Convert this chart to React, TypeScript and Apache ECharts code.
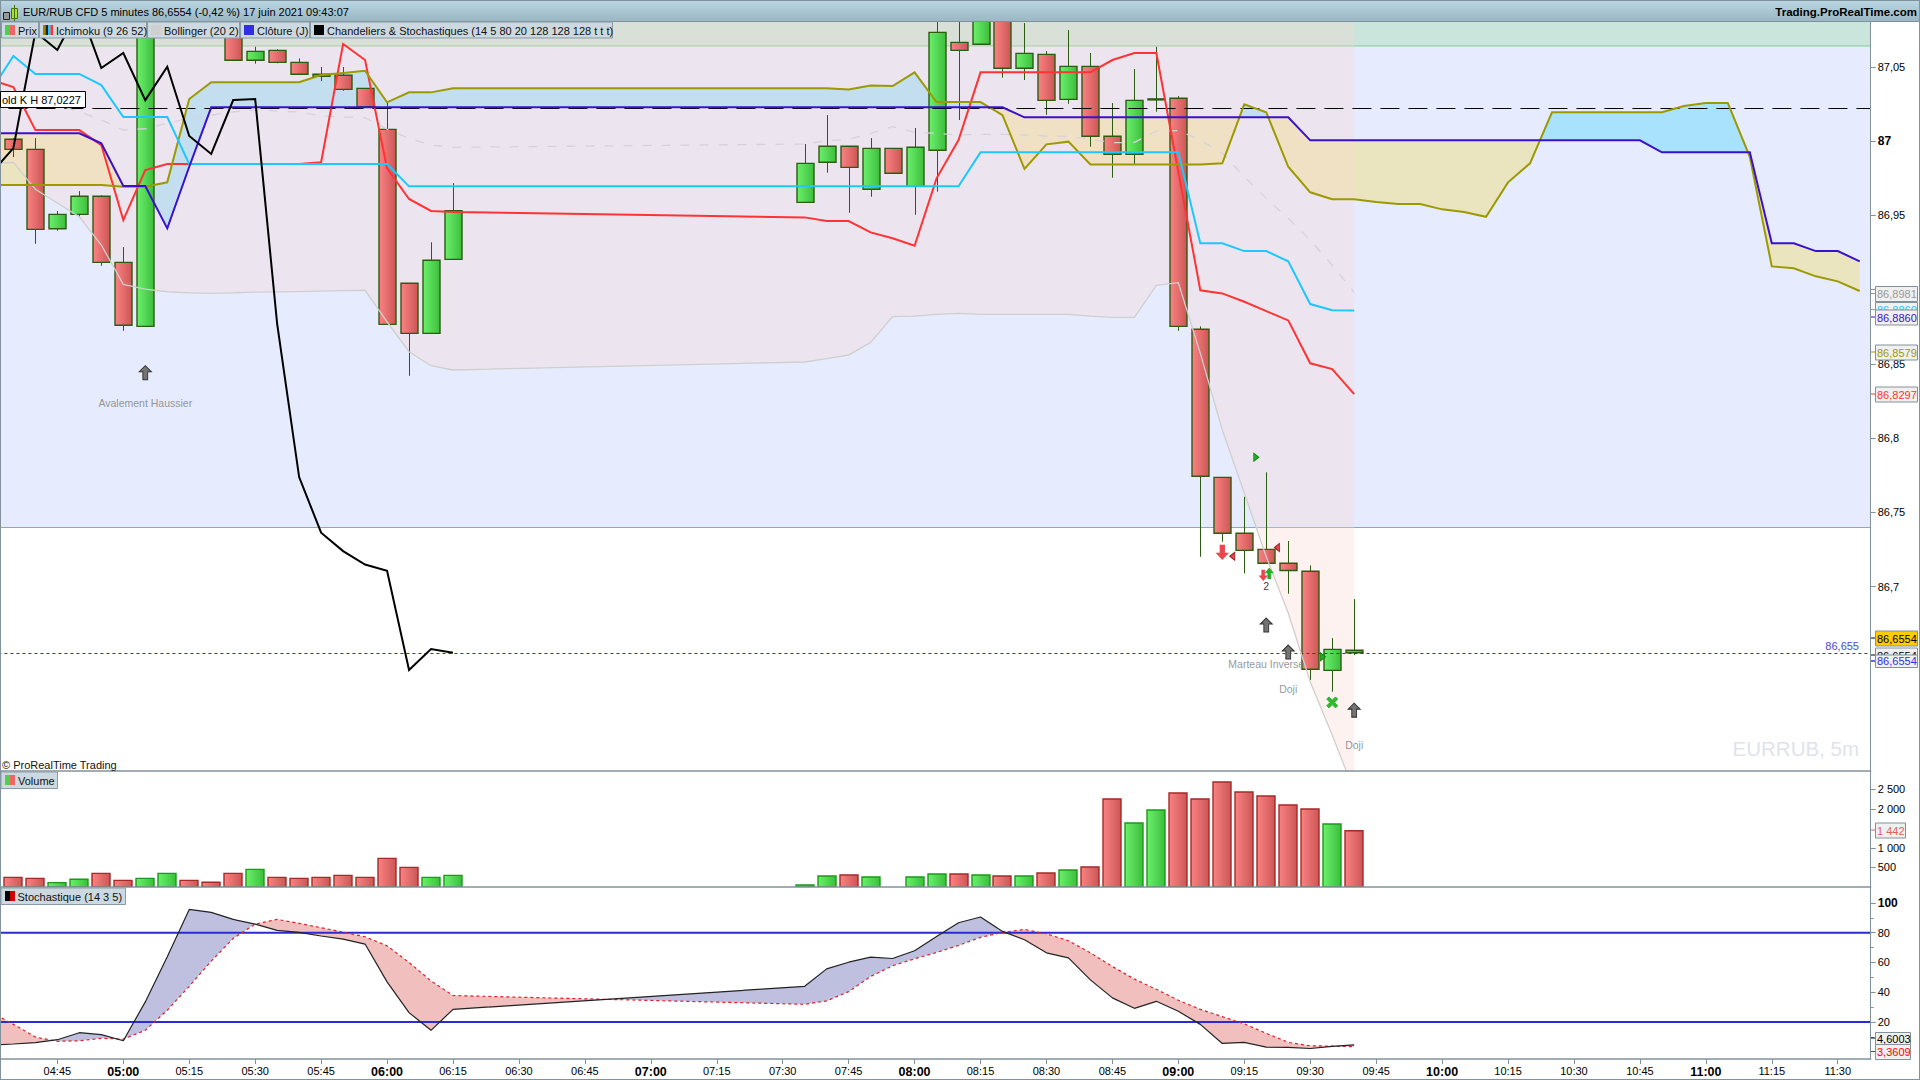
import React, { useEffect, useRef } from "react";
import * as echarts from "echarts";

const FONT = "'Liberation Sans', Arial, sans-serif";
const gap: null[] = Array(15).fill(null);
const SHIFT = 20; // the chart div starts 20px left of the page so that the 04:30 slot runs off the edge

// 5-minute slots, 04:30 -> 11:35
const categories: string[] = [];
for (let m = 4 * 60 + 30; m <= 11 * 60 + 35; m += 5) {
  categories.push(String(Math.floor(m / 60)).padStart(2, "0") + ":" + String(m % 60).padStart(2, "0"));
}

// time, open, high, low, close
const candles: [string, number, number, number, number][] = [
  ["04:35", 87.0013, 87.0021, 86.9893, 86.9945],
  ["04:40", 86.9945, 87.0021, 86.9309, 86.9406],
  ["04:45", 86.941, 86.953, 86.9397, 86.9507],
  ["04:50", 86.9507, 86.9664, 86.9485, 86.9629],
  ["04:55", 86.9629, 86.9635, 86.9161, 86.9184],
  ["05:00", 86.9184, 86.9287, 86.8723, 86.876],
  ["05:05", 86.8753, 87.08, 86.8753, 87.0749],
  ["05:25", 87.0749, 87.09, 87.0545, 87.0545],
  ["05:30", 87.0545, 87.0636, 87.0522, 87.0605],
  ["05:35", 87.0612, 87.0619, 87.0525, 87.0531],
  ["05:40", 87.0531, 87.0558, 87.0451, 87.0451],
  ["05:45", 87.0451, 87.05, 87.0405, 87.0437],
  ["05:50", 87.0444, 87.05, 87.034, 87.0349],
  ["05:55", 87.0356, 87.0356, 87.0232, 87.0232],
  ["06:00", 87.008, 87.0266, 86.8766, 86.8766],
  ["06:05", 86.9043, 86.9043, 86.842, 86.8706],
  ["06:10", 86.8706, 86.9319, 86.8706, 86.9198],
  ["06:15", 86.9204, 86.9718, 86.9204, 86.9532],
  ["07:35", 86.9588, 86.9981, 86.9588, 86.9851],
  ["07:40", 86.9858, 87.0176, 86.9788, 86.9966],
  ["07:45", 86.9966, 86.9966, 86.9518, 86.9824],
  ["07:50", 86.9676, 87.0021, 86.9626, 86.9952],
  ["07:55", 86.9952, 86.9952, 86.9784, 86.9784],
  ["08:00", 86.9696, 87.0089, 86.9505, 86.9959],
  ["08:05", 86.9939, 87.0803, 86.966, 87.0733],
  ["08:10", 87.0666, 87.0803, 87.0143, 87.0612],
  ["08:15", 87.0653, 87.09, 87.0653, 87.085],
  ["08:20", 87.085, 87.09, 87.0428, 87.0491],
  ["08:25", 87.0491, 87.0796, 87.0412, 87.0592],
  ["08:30", 87.0585, 87.0607, 87.0178, 87.0275],
  ["08:35", 87.0282, 87.0749, 87.0252, 87.0504],
  ["08:40", 87.0504, 87.0594, 86.9963, 87.0033],
  ["08:45", 87.0033, 87.0257, 86.9754, 86.9912],
  ["08:50", 86.9912, 87.0486, 86.9844, 87.0275],
  ["08:55", 87.0282, 87.0636, 87.0199, 87.0285],
  ["09:00", 87.0289, 87.0304, 86.8723, 86.8753],
  ["09:05", 86.8733, 86.8753, 86.7201, 86.7743],
  ["09:10", 86.7736, 86.7736, 86.7302, 86.7359],
  ["09:15", 86.7359, 86.7605, 86.7089, 86.7244],
  ["09:20", 86.7251, 86.777, 86.7157, 86.7157],
  ["09:25", 86.7157, 86.7307, 86.6952, 86.7109],
  ["09:30", 86.7103, 86.7143, 86.6371, 86.6443],
  ["09:35", 86.6436, 86.6653, 86.6292, 86.6577],
  ["09:40", 86.6571, 86.6916, 86.6539, 86.6554],
];

const blackLine = [86.9786, 86.9954, 87.0735, 87.0614, 87.0897, 87.0493, 87.0594, 87.0277, 87.0502, 87.0035, 86.9914, 87.0277, 87.0284, 86.8769, 86.7738, 86.7363, 86.7239, 86.7149, 86.7107, 86.6438, 86.6579, 86.6555];

const redLine: (number | null)[] = [87.0412, 87.0365, 87.0075, 87.0075, 87.0075, 86.9974, 86.9469, 86.9806, 86.9846, 86.9846, 86.9846, 86.9846, 86.9846, 86.9846, 86.9846, 86.9858, 87.0655, 87.0547, 86.9817, 86.9611, 86.953, 86.9523, ...gap,
  86.9487, 86.9462, 86.9462, 86.9386, 86.9346, 86.9296, 86.975, 87.0008, 87.0464, 87.0464, 87.0464, 87.0464, 87.0464, 87.0464, 87.0547, 87.0594, 87.0594, 86.9794, 86.8996, 86.8975, 86.8919, 86.8856, 86.8793, 86.8504, 86.8465, 86.8297];

const cyanLine: (number | null)[] = [87.0345, 87.0574, 87.0453, 87.0453, 87.0453, 87.0378, 87.0163, 87.0163, 87.0163, 86.9846, 86.9846, 86.9846, 86.9846, 86.9846, 86.9846, 86.9846, 86.9846, 86.9846, 86.9846, 86.9696, 86.9696, 86.9696, ...gap,
  86.9696, 86.9696, 86.9696, 86.9696, 86.9696, 86.9696, 86.9696, 86.9696, 86.9925, 86.9925, 86.9925, 86.9925, 86.9925, 86.9925, 86.9925, 86.9925, 86.9925, 86.9925, 86.9312, 86.9312, 86.926, 86.926, 86.9191, 86.8903, 86.8861, 86.886];

const blueLine: (number | null)[] = [87.0053, 87.0053, 87.0053, 87.0053, 87.0053, 86.9986, 86.9698, 86.9698, 86.9413, 86.9828, 87.0228, 87.0228, 87.0228, 87.0228, 87.0228, 87.0228, 87.0228, 87.0228, 87.0228, 87.0228, 87.0228, 87.0228, ...gap,
  87.0228, 87.0228, 87.0228, 87.0228, 87.0228, 87.0228, 87.0228, 87.0228, 87.0228, 87.0228, 87.0161, 87.0161, 87.0161, 87.0161, 87.0161, 87.0161, 87.0161, 87.0161, 87.0161, 87.0161, 87.0161, 87.0161, 87.0161, 87.0006, 87.0006, 87.0006,
  87.0006, 87.0006, 87.0006, 87.0006, 87.0006, 87.0006, 87.0006, 87.0006, 87.0006, 87.0006, 87.0006, 87.0006, 87.0006, 86.9925, 86.9925, 86.9925, 86.9925, 86.9925, 86.9312, 86.9312, 86.926, 86.926, 86.9191];

const oliveLine: (number | null)[] = [86.9705, 86.9705, 86.9705, 86.9705, 86.9705, 86.9705, 86.9693, 86.9693, 86.9723, 87.0284, 87.0397, 87.0397, 87.0397, 87.0397, 87.0397, 87.0446, 87.0459, 87.0475, 87.0262, 87.0329, 87.0329, 87.0356, ...gap,
  87.0356, 87.0356, 87.0349, 87.0376, 87.0372, 87.0464, 87.0264, 87.0264, 87.0264, 87.0176, 86.9813, 86.9979, 86.9997, 86.9844, 86.9844, 86.9844, 86.9844, 86.9844, 86.9844, 86.9851, 87.0248, 87.0195, 86.9828, 86.9656, 86.9609, 86.9609,
  86.959, 86.9577, 86.9577, 86.9541, 86.9523, 86.9491, 86.9723, 86.9851, 87.0195, 87.0195, 87.0195, 87.0195, 87.0195, 87.0195, 87.0237, 87.0257, 87.0257, 86.9895, 86.9157, 86.9144, 86.909, 86.9056, 86.8991];

const bollLower: (number | null)[] = [86.985, 86.9858, 86.9676, 86.9584, 86.9491, 86.9301, 86.9036, 86.9004, 86.8986, 86.8979, 86.8975, 86.8979, 86.8984, 86.8985, 86.8987, 86.899, 86.8993, 86.8996, 86.8784, 86.8582, 86.8488, 86.8459, ...gap,
  86.8513, 86.8536, 86.856, 86.8645, 86.8818, 86.8822, 86.8833, 86.8841, 86.8834, 86.8834, 86.8834, 86.8834, 86.8834, 86.8822, 86.8814, 86.8814, 86.9029, 86.9047, 86.8571, 86.8055, 86.763, 86.7201, 86.6822, 86.6359, 86.6, 86.5623];

const bollMid: (number | null)[] = [87.0325, 87.0311, 87.0277, 87.0244, 87.0199, 87.0143, 87.0075, 87.0084, 87.012, 87.0156, 87.0176, 87.0197, 87.021, 87.0203, 87.0197, 87.017, 87.0163, 87.0158, 87.0082, 87.0019, 86.9974, 86.9959, ...gap,
  86.9981, 87.0003, 87.0013, 87.0053, 87.0098, 87.006, 87.0053, 87.0042, 87.0046, 87.0046, 87.0042, 87.0035, 87.0033, 87.0013, 86.999, 86.9992, 87.0069, 87.0071, 87.0008, 86.9918, 86.9761, 86.9615, 86.9481, 86.9334, 86.9166, 86.8981];

// volume per slot; colour follows volumeUp
const volumeValues: (number | null)[] = [null, 248, 222, 111, 197, 350, 171, 222, 350, 171, 120, 350, 453, 248, 222, 248, 299, 248, 735, 504, 248, 299, ...gap,
  51, 282, 308, 256, null, 256, 333, 333, 308, 282, 282, 359, 436, 513, 2256, 1641, 1974, 2410, 2256, 2692, 2436, 2333, 2103, 2000, 1615, 1442];
const volumeUp: number[] = [0, 0, 0, 1, 1, 0, 0, 1, 1, 0, 0, 0, 1, 0, 0, 0, 0, 0, 0, 0, 1, 1, ...Array(15).fill(0),
  1, 1, 0, 1, 0, 1, 1, 0, 1, 0, 1, 0, 1, 0, 0, 1, 1, 0, 0, 0, 0, 0, 0, 0, 1, 0];

const stochK: (number | null)[] = [4.5, 5.2, 6.1, 8.1, 12.8, 11.5, 7.4, 33.5, 63.8, 95.7, 93.7, 89, 85.8, 81.6, 80.2, 77.8, 75.7, 72.4, 47, 26.3, 14.4, 28.5, ...gap,
  44, 55.7, 60.2, 63.6, 62.7, 67.9, 77.5, 86.7, 90.6, 80.9, 75.3, 66.5, 63.1, 48.3, 36.2, 29.2, 33.9, 27.2, 18.4, 5.6, 6.3, 3.1, 2.9, 2.2, 3.6, 4.6];
const stochD: (number | null)[] = [26.5, 18.4, 9.9, 7, 7.4, 9, 8.5, 14.4, 27.9, 44, 60.9, 76.2, 85.8, 89, 86.3, 83.4, 80.4, 77.3, 71.2, 60, 47.6, 37.8, ...gap,
  31.9, 34.2, 40.4, 50.6, 57.8, 62.5, 66.7, 71.5, 76.9, 80.2, 82.2, 79.3, 74.6, 66.5, 57.3, 48.8, 42, 34.6, 28.5, 23.6, 18.7, 12.4, 6.3, 4, 3.8, 3.36];

const priceTicks = [87.05, 87, 86.95, 86.9, 86.85, 86.8, 86.75, 86.7, 86.65];
const volumeTicks = [500, 1000, 2000, 2500];
const stochTicks = [20, 40, 60, 80, 100];
const stochMinorTicks = [10, 30, 50, 70, 90];
const stochBounds = [20, 80];

const PMIN = 86.5758, PMAX = 87.0803;
const zones = [
  { top: PMAX, bottom: 87.0639, fill: "#c9e5dc", line: "#38b038" },
  { top: 87.0639, bottom: 86.7398, fill: "#e6ecfd", line: "#7ea6ee" },
];
const levels = [
  { price: 87.0227, color: "#000", dash: [19, 9], width: 1.2 },
  { price: 86.6554, color: "#3030c8", dash: [3, 3], width: 1 },
];

const arrowUp = "path://M5,0 L10,6 L7,6 L7,14 L3,14 L3,6 L0,6 Z";
const arrowDown = "path://M3,0 L7,0 L7,8 L10,8 L5,14 L0,8 L3,8 Z";
const triLeft = "path://M6,0 L6,10 L0,5 Z";
const triRight = "path://M0,0 L6,5 L0,10 Z";
const cross = "path://M2,0 L5,3 L8,0 L10,2 L7,5 L10,8 L8,10 L5,7 L2,10 L0,8 L3,5 L0,2 Z";

const markers: [string, number, string, number, number, number, string, string][] = [
  ["05:05", 86.8441, arrowUp, 12, 14, 0, "#747474", "#333"],
  ["09:20", 86.6741, arrowUp, 12, 14, 0, "#747474", "#333"],
  ["09:25", 86.6559, arrowUp, 12, 14, 0, "#747474", "#333"],
  ["09:40", 86.6168, arrowUp, 12, 14, 0, "#747474", "#333"],
  ["09:10", 86.7231, arrowDown, 11, 14, 0, "#ee4450", "#ee4450"],
  ["09:10", 86.7204, triLeft, 5, 8, 10, "#ee4450", "#a02020"],
  ["09:20", 86.7264, triLeft, 5, 8, 10.7, "#ee4450", "#a02020"],
  ["09:20", 86.7076, arrowDown, 7, 10, -3, "#ee4450", "#ee4450"],
  ["09:20", 86.7089, arrowUp, 7, 10, 3, "#22b022", "#22b022"],
  ["09:20", 86.7871, triRight, 5, 8, -10, "#22b022", "#118811"],
  ["09:35", 86.6527, triRight, 5, 8, -9.3, "#22b022", "#118811"],
  ["09:35", 86.622, cross, 11, 11, 0, "#30b830", "#30b830"],
];
const markerTexts: [string, number, string, string][] = [
  ["05:05", 86.8238, "Avalement Haussier", "#7c7c7c"],
  ["09:20", 86.6478, "Marteau Inversé", "#7c7c7c"],
  ["09:25", 86.6312, "Doji", "#7c7c7c"],
  ["09:40", 86.5935, "Doji", "#7c7c7c"],
  ["09:20", 86.7006, "2", "#000"],
];

const legendTags: [number, number, string, string[]][] = [
  [1, 38, "Prix", ["#4fcf4f", "#ee6666"]],
  [39, 146, "Ichimoku (9 26 52)", ["#a08000", "#222222", "#1ec8ff", "#ff3333"]],
  [147, 239, "Bollinger (20 2)", ["#cfcfcf"]],
  [240, 309, "Clôture (J)", ["#3030e0"]],
  [310, 612, "Chandeliers & Stochastiques (14 5 80 20 128 128 128 t t t)", ["#000000"]],
];
// y, height, width, text, text colour, background
const priceTags: [number, number, number, string, string, string][] = [
  [286, 15, 42, "86,8981", "#999999", "#f0f0f0"],
  [302, 15, 42, "86,8860", "#1ec8ff", "#f0f0f0"],
  [309.5, 15, 42, "86,8860", "#3a10d0", "#f0f0f0"],
  [344.5, 15, 42, "86,8579", "#9c9a00", "#f0f0f0"],
  [386.5, 15, 42, "86,8297", "#ff3333", "#f0f0f0"],
  [630.5, 15, 42, "86,6554", "#000000", "#ffcc00"],
  [647.5, 15, 42, "86,6554", "#000000", "#f0f0f0"],
  [654.5, 12.5, 42, "86,6554", "#3030e0", "#f0f0f0"],
  [822.5, 15, 30, "1 442", "#e06060", "#f0f0f0"],
  [1032, 12, 35, "4,6003", "#000000", "#f0f0f0"],
  [1044, 15, 35, "3,3609", "#ff0000", "#f0f0f0"],
];

function crossBands(api: any, a: (number | null)[], b: (number | null)[], colAbove: string, colBelow: string) {
  const pts: { x: number; ya: number; yb: number }[] = [];
  a.forEach((v, j) => {
    const w = b[j];
    if (v == null || w == null) return;
    const pa = api.coord([j, v]);
    const pb = api.coord([j, w]);
    pts.push({ x: pa[0], ya: pa[1], yb: pb[1] });
  });
  const children: any[] = [];
  let top: number[][] = [];
  let bot: number[][] = [];
  let sign = 0;
  const flush = () => {
    if (top.length > 1) {
      children.push({
        type: "polygon",
        shape: { points: top.concat(bot.slice().reverse()) },
        style: { fill: sign > 0 ? colAbove : colBelow },
      });
    }
    top = [];
    bot = [];
  };
  pts.forEach((p, k) => {
    const d = p.yb - p.ya;
    const s = d > 0 ? 1 : d < 0 ? -1 : sign;
    if (sign !== 0 && s !== sign && k > 0) {
      const q = pts[k - 1];
      const dq = q.yb - q.ya;
      const t = dq / (dq - d);
      const cx = q.x + (p.x - q.x) * t;
      const cy = q.ya + (p.ya - q.ya) * t;
      top.push([cx, cy]);
      bot.push([cx, cy]);
      flush();
      top.push([cx, cy]);
      bot.push([cx, cy]);
    }
    sign = s;
    top.push([p.x, p.ya]);
    bot.push([p.x, p.yb]);
  });
  flush();
  return { type: "group", children };
}

const hGrad = (c0: string, c1: string) => new echarts.graphic.LinearGradient(0, 0, 1, 0, [
  { offset: 0, color: c0 },
  { offset: 1, color: c1 },
]);
const redGrad = () => hGrad("#fb8282", "#cc5656");
const greenGrad = () => hGrad("#6cf06c", "#3cbe3c");

function buildOption(): any {
  const G = { left: 0.43, width: 1890.28 };
  const lineS = (name: string, data: any[], color: string, width: number, extra: any = {}) => ({
    name, type: "line", z: 3, data, showSymbol: false, connectNulls: true, silent: true, xAxisIndex: 0, yAxisIndex: 0,
    lineStyle: { color, width, join: "miter" }, ...extra,
  });

  const tagEls: any[] = [];
  priceTags.forEach(([y, h, w, t, col, bg], k) => {
    const z = 110 + k * 2;
    tagEls.push({ type: "rect", z, shape: { x: 1875.5, y: y + 0.5, width: w, height: h }, style: { fill: bg, stroke: "#7f929c", lineWidth: 1 } });
    tagEls.push({ type: "line", z, shape: { x1: 1871, y1: y + h / 2, x2: 1875, y2: y + h / 2 }, style: { stroke: col, lineWidth: 1 } });
    tagEls.push({ type: "text", z: z + 1, x: 1877, y: y + h / 2 + 0.5, style: { text: t, fill: col, font: `11px ${FONT}`, verticalAlign: "middle" } });
  });
  const legendEls: any[] = [];
  legendTags.forEach(([x0, x1, t, cols]) => {
    legendEls.push({ type: "rect", z: 100, shape: { x: x0 + 0.5, y: 22, width: x1 - x0, height: 16 }, style: { fill: "#ccd9e0", stroke: "#8a9ba5", lineWidth: 1 } });
    const w = 10 / cols.length;
    cols.forEach((c, k) => legendEls.push({ type: "rect", z: 101, shape: { x: x0 + 4 + k * w, y: 25, width: w, height: 10 }, style: { fill: c } }));
    legendEls.push({ type: "text", z: 101, x: x0 + 17, y: 30.5, style: { text: t, fill: "#111", font: `11px ${FONT}`, verticalAlign: "middle" } });
  });

  return {
    animation: false,
    backgroundColor: "#ffffff",
    textStyle: { fontFamily: FONT },
    grid: [
      { ...G, top: 22, height: 749 },
      { ...G, top: 771, height: 116 },
      { ...G, top: 887, height: 172 },
    ],
    xAxis: [0, 1, 2].map((k) => ({
      type: "category",
      gridIndex: k,
      data: categories,
      boundaryGap: true,
      z: 6,
      axisLine: { show: true, onZero: false, lineStyle: { color: "#82929c", width: 1.5 } },
      axisTick: k === 2
        ? { show: true, alignWithLabel: true, length: 5, lineStyle: { color: "#82929c" }, interval: (_: number, v: string) => /:(00|15|30|45)$/.test(v) && v !== "04:30" }
        : { show: false },
      axisLabel: k === 2
        ? {
            show: true, margin: 6, color: "#000", fontSize: 11, fontFamily: FONT,
            interval: (_: number, v: string) => /:(00|15|30|45)$/.test(v) && v !== "04:30",
            formatter: (v: string) => (v.endsWith(":00") ? `{b|${v}}` : v),
            rich: { b: { fontWeight: "bold", fontSize: 12.5, fontFamily: FONT, color: "#000" } },
          }
        : { show: false },
      splitLine: { show: false },
    })),
    yAxis: [
      {
        type: "value", gridIndex: 0, position: "right", min: PMIN, max: PMAX, scale: true, z: 6,
        axisLine: { show: true, lineStyle: { color: "#82929c", width: 1 } },
        axisTick: { show: true, length: 5, lineStyle: { color: "#82929c" }, customValues: priceTicks },
        axisLabel: {
          show: true, margin: 7, color: "#000", fontSize: 11, fontFamily: FONT, customValues: priceTicks,
          formatter: (v: number) => (v === 87 ? "{b|87}" : String(v).replace(".", ",")),
          rich: { b: { fontWeight: "bold", fontSize: 12, fontFamily: FONT, color: "#000" } },
        },
        splitLine: { show: false },
      },
      {
        type: "value", gridIndex: 1, position: "right", min: 0, max: 2974, z: 6,
        axisLine: { show: true, lineStyle: { color: "#82929c", width: 1 } },
        axisTick: { show: true, length: 5, lineStyle: { color: "#82929c" }, customValues: volumeTicks },
        axisLabel: {
          show: true, margin: 7, color: "#000", fontSize: 11, fontFamily: FONT, customValues: volumeTicks,
          formatter: (v: number) => (v >= 1000 ? `${Math.floor(v / 1000)} ${String(v % 1000).padStart(3, "0")}` : String(v)),
        },
        splitLine: { show: false },
      },
      {
        type: "value", gridIndex: 2, position: "right", min: -4.87, max: 110.75, z: 6,
        axisLine: { show: true, lineStyle: { color: "#82929c", width: 1 } },
        axisTick: { show: true, length: 5, lineStyle: { color: "#82929c" }, customValues: stochTicks },
        axisLabel: {
          show: true, margin: 7, color: "#000", fontSize: 11, fontFamily: FONT, customValues: stochTicks,
          formatter: (v: number) => (v === 100 ? "{b|100}" : String(v)),
          rich: { b: { fontWeight: "bold", fontSize: 12, fontFamily: FONT, color: "#000" } },
        },
        splitLine: { show: false },
      },
      {
        type: "value", gridIndex: 2, position: "right", min: -4.87, max: 110.75, z: 6,
        axisLine: { show: false },
        axisTick: { show: true, length: 3, lineStyle: { color: "#82929c" }, customValues: stochMinorTicks },
        axisLabel: { show: false },
        splitLine: { show: false },
      },
    ],
    series: [
      {
        name: "zones", type: "custom", z: 1, silent: true, clip: true, xAxisIndex: 0, yAxisIndex: 0,
        data: zones.map((z, k) => [k, z.bottom]), encode: { x: 0, y: 1 },
        renderItem: (params: any, api: any) => {
          const z = zones[params.dataIndex];
          const cs = params.coordSys;
          const y0 = api.coord([0, z.top])[1];
          const y1 = api.coord([0, z.bottom])[1];
          return {
            type: "group",
            children: [
              { type: "rect", shape: { x: cs.x, y: y0, width: cs.width, height: y1 - y0 }, style: { fill: z.fill } },
              { type: "line", shape: { x1: cs.x, y1: y1, x2: cs.x + cs.width, y2: y1 }, style: { stroke: z.line, lineWidth: 1.2 } },
            ],
          };
        },
      },
      {
        name: "nuage", type: "custom", z: 1, silent: true, clip: true, xAxisIndex: 0, yAxisIndex: 0,
        data: [[0, PMIN]], encode: { x: 0, y: 1 },
        renderItem: (_: any, api: any) => crossBands(api, oliveLine, blueLine, "#a9e2fd", "#ebe5bf"),
      },
      lineS("Bollinger aire", bollLower, "#cfcfcf", 0, { z: 1, lineStyle: { width: 0, opacity: 0 }, areaStyle: { origin: "end", color: "rgba(252,212,208,0.3)", opacity: 1 } }),
      {
        name: "Prix", type: "custom", z: 2, clip: true, silent: true, xAxisIndex: 0, yAxisIndex: 0,
        data: candles, encode: { x: 0, y: [1, 2, 3, 4] },
        renderItem: (_: any, api: any) => {
          const xc = api.coord([api.value(0), 87])[0];
          const o = api.coord([api.value(0), api.value(1)])[1];
          const h = api.coord([api.value(0), api.value(2)])[1];
          const l = api.coord([api.value(0), api.value(3)])[1];
          const c = api.coord([api.value(0), api.value(4)])[1];
          const up = api.value(4) >= api.value(1);
          const x = Math.round(xc);
          const top = Math.min(o, c);
          const bot = Math.max(o, c);
          return {
            type: "group",
            children: [
              { type: "line", shape: { x1: x + 0.5, y1: h, x2: x + 0.5, y2: l }, style: { stroke: "#2c5c12", lineWidth: 1 } },
              { type: "rect", shape: { x: x - 8, y: top, width: 17, height: Math.max(bot - top, 1) }, style: { fill: up ? greenGrad() : redGrad(), stroke: "#2c5c12", lineWidth: 1.4 } },
            ],
          };
        },
      },
      {
        name: "niveaux", type: "custom", z: 3, silent: true, clip: true, xAxisIndex: 0, yAxisIndex: 0,
        data: levels.map((z, k) => [k, z.price]), encode: { x: 0, y: 1 },
        renderItem: (params: any, api: any) => {
          const z = levels[params.dataIndex];
          const cs = params.coordSys;
          const y = Math.round(api.coord([0, z.price])[1]) + 0.5;
          return { type: "line", shape: { x1: cs.x, y1: y, x2: cs.x + cs.width, y2: y }, style: { stroke: z.color, lineWidth: z.width, lineDash: z.dash } };
        },
      },
      lineS("Bollinger bas", bollLower, "#cfcfcf", 1.3),
      lineS("Bollinger milieu", bollMid, "#d6d2da", 1.3, { lineStyle: { color: "#d6d2da", width: 1.3, type: [9, 10] } }),
      lineS("Rouge", redLine, "#ff3333", 2),
      lineS("Olive", oliveLine, "#9c9a00", 2),
      lineS("Cyan", cyanLine, "#1ec8ff", 2),
      lineS("Bleu", blueLine, "#3a10d0", 2),
      lineS("Noir", blackLine, "#000000", 2),
      {
        name: "motifs", type: "scatter", z: 4, silent: true, xAxisIndex: 0, yAxisIndex: 0,
        data: markers.map(([t, p, sym, w, h, dx, fill, stroke]) => ({
          value: [t, p], symbol: sym, symbolSize: [w, h], symbolOffset: [dx, 0],
          itemStyle: { color: fill, borderColor: stroke, borderWidth: 1, opacity: 1 },
        })),
      },
      {
        name: "textes", type: "scatter", z: 4, silent: true, xAxisIndex: 0, yAxisIndex: 0, symbolSize: 1,
        data: markerTexts.map(([t, p, s, c]) => ({
          value: [t, p], itemStyle: { color: "rgba(0,0,0,0)" },
          label: { show: true, position: "inside", formatter: s, color: c, fontSize: 10.5, fontFamily: FONT },
        })),
      },
      {
        name: "Volume", type: "custom", z: 2, silent: true, clip: true, xAxisIndex: 1, yAxisIndex: 1,
        data: volumeValues.map((v, j) => [j, v]).filter((r) => r[1] != null), encode: { x: 0, y: 1 },
        renderItem: (_: any, api: any) => {
          const j = api.value(0);
          const p = api.coord([j, api.value(1)]);
          const b = api.coord([j, 0]);
          const up = volumeUp[j] === 1;
          const x = Math.round(p[0]);
          return {
            type: "rect",
            shape: { x: x - 9, y: p[1], width: 18, height: b[1] - p[1] },
            style: { fill: up ? greenGrad() : redGrad(), stroke: up ? "#1a9a1a" : "#a52a2a", lineWidth: 1.4 },
          };
        },
      },
      {
        name: "aire stoch", type: "custom", z: 2, silent: true, clip: true, xAxisIndex: 2, yAxisIndex: 2,
        data: [[0, 50]], encode: { x: 0, y: 1 },
        renderItem: (_: any, api: any) => crossBands(api, stochK, stochD, "#bfc0e0", "#f2bfbf"),
      },
      {
        name: "bornes", type: "custom", z: 2, silent: true, xAxisIndex: 2, yAxisIndex: 2, clip: true,
        data: stochBounds.map((v, k) => [k, v]), encode: { x: 0, y: 1 },
        renderItem: (params: any, api: any) => {
          const cs = params.coordSys;
          const y = api.coord([0, api.value(1)])[1];
          return { type: "line", shape: { x1: cs.x, y1: y, x2: cs.x + cs.width, y2: y }, style: { stroke: "#2a2ad8", lineWidth: 2 } };
        },
      },
      { name: "%D", type: "line", z: 3, xAxisIndex: 2, yAxisIndex: 2, data: stochD, connectNulls: true, showSymbol: false, silent: true, lineStyle: { color: "#e0202a", width: 1.2, type: [3, 3] } },
      { name: "%K", type: "line", z: 3, xAxisIndex: 2, yAxisIndex: 2, data: stochK, connectNulls: true, showSymbol: false, silent: true, lineStyle: { color: "#222222", width: 1.2 } },
    ],
    graphic: {
      elements: [
        {
          type: "group", x: SHIFT, y: 0,
          children: [
            { type: "rect", z: 100, shape: { x: 0, y: 0, width: 1920, height: 21.5 }, style: { fill: new echarts.graphic.LinearGradient(0, 0, 0, 1, [{ offset: 0, color: "#bbd7e4" }, { offset: 1, color: "#9ab6c3" }]) } },
            { type: "line", z: 100, shape: { x1: 0, y1: 21.5, x2: 1920, y2: 21.5 }, style: { stroke: "#7f929c", lineWidth: 1 } },
            { type: "line", z: 100, shape: { x1: 0, y1: 0.5, x2: 1920, y2: 0.5 }, style: { stroke: "#7f929c", lineWidth: 1 } },
            { type: "line", z: 100, shape: { x1: 0.5, y1: 0, x2: 0.5, y2: 1080 }, style: { stroke: "#82929c", lineWidth: 1 } },
            { type: "line", z: 100, shape: { x1: 0, y1: 1079.5, x2: 1920, y2: 1079.5 }, style: { stroke: "#82929c", lineWidth: 1 } },
            { type: "line", z: 100, shape: { x1: 1919.5, y1: 0, x2: 1919.5, y2: 1080 }, style: { stroke: "#82929c", lineWidth: 1 } },
            { type: "rect", z: 101, shape: { x: 3.5, y: 12.5, width: 6, height: 7 }, style: { fill: "#999", stroke: "#222", lineWidth: 1 } },
            { type: "rect", z: 101, shape: { x: 11.5, y: 8.5, width: 6, height: 10 }, style: { fill: "#a6e22e", stroke: "#4a7010", lineWidth: 1 } },
            { type: "line", z: 101, shape: { x1: 14.5, y1: 5, x2: 14.5, y2: 21 }, style: { stroke: "#4a7010", lineWidth: 1 } },
            { type: "text", z: 101, x: 23, y: 11.5, style: { text: "EUR/RUB CFD 5 minutes 86,6554 (-0,42 %) 17 juin 2021 09:43:07", fill: "#000", font: `11px ${FONT}`, verticalAlign: "middle" } },
            { type: "text", z: 101, x: 1917, y: 11.5, style: { text: "Trading.ProRealTime.com", fill: "#000", font: `bold 11.5px ${FONT}`, textAlign: "right", verticalAlign: "middle" } },
            ...legendEls,
            { type: "rect", z: 100, shape: { x: 0.5, y: 91.5, width: 85, height: 16 }, style: { fill: "#fff", stroke: "#000", lineWidth: 1 } },
            { type: "text", z: 101, x: 2, y: 100, style: { text: "old K H 87,0227", fill: "#000", font: `11px ${FONT}`, verticalAlign: "middle" } },
            { type: "text", z: 101, x: 1859, y: 646, style: { text: "86,655", fill: "#4848e0", font: `11px ${FONT}`, textAlign: "right", verticalAlign: "middle" } },
            { type: "text", z: 50, x: 1859, y: 748, style: { text: "EURRUB, 5m", fill: "#e0e3ec", font: `20.5px ${FONT}`, textAlign: "right", verticalAlign: "middle" } },
            { type: "text", z: 101, x: 2, y: 765, style: { text: "© ProRealTime Trading", fill: "#111", font: `11px ${FONT}`, verticalAlign: "middle" } },
            { type: "rect", z: 100, shape: { x: 1, y: 772, width: 56.5, height: 16.5 }, style: { fill: "#ccd9e0", stroke: "#8a9ba5", lineWidth: 1 } },
            { type: "rect", z: 101, shape: { x: 5, y: 775, width: 5, height: 10 }, style: { fill: "#4fcf4f" } },
            { type: "rect", z: 101, shape: { x: 10, y: 775, width: 5, height: 10 }, style: { fill: "#ee6666" } },
            { type: "text", z: 101, x: 18, y: 780.5, style: { text: "Volume", fill: "#111", font: `11px ${FONT}`, verticalAlign: "middle" } },
            { type: "rect", z: 100, shape: { x: 1, y: 888, width: 124.5, height: 16.5 }, style: { fill: "#ccd9e0", stroke: "#8a9ba5", lineWidth: 1 } },
            { type: "rect", z: 101, shape: { x: 5, y: 891, width: 5, height: 10 }, style: { fill: "#000" } },
            { type: "rect", z: 101, shape: { x: 10, y: 891, width: 5, height: 10 }, style: { fill: "#d00000" } },
            { type: "text", z: 101, x: 17.5, y: 896.5, style: { text: "Stochastique (14 3 5)", fill: "#111", font: `11px ${FONT}`, verticalAlign: "middle" } },
            ...tagEls,
          ],
        },
      ],
    },
  };
}

export default function App() {
  const ref = useRef<HTMLDivElement>(null);
  useEffect(() => {
    const chart = echarts.init(ref.current as HTMLDivElement, undefined, { renderer: "svg" });
    chart.setOption(buildOption());
    return () => chart.dispose();
  }, []);
  return <div ref={ref} style={{ position: "fixed", left: -SHIFT, top: 0, width: 1920 + SHIFT, height: 1080, background: "#fff" }} />;
}
